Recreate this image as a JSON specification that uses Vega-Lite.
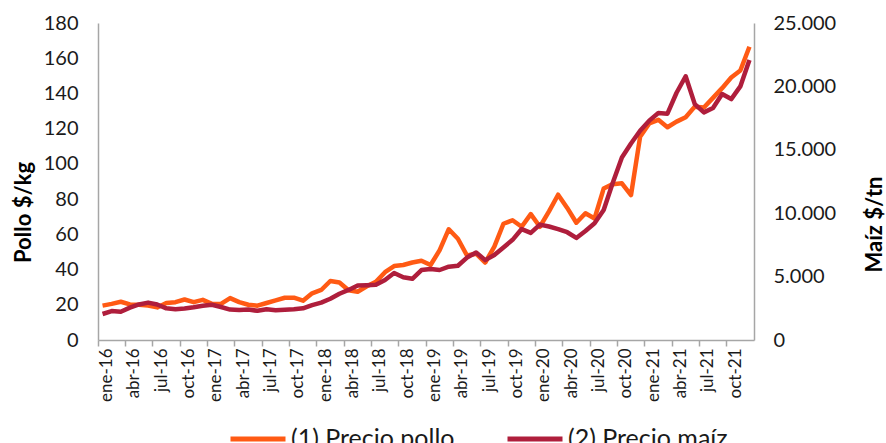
{
  "$schema": "https://vega.github.io/schema/vega-lite/v6.json",
  "width": 656,
  "height": 317,
  "autosize": {"type": "none"},
  "padding": {"left": 98, "top": 23, "right": 132, "bottom": 103},
  "background": "white",
  "config": {
    "font": "Lato",
    "view": {"stroke": null},
    "axis": {"labelFont": "Lato", "titleFont": "Lato", "labelColor": "#1a1a1a", "titleColor": "#000000", "domainColor": "#a6a6a6", "domainWidth": 1.5, "tickColor": "#a6a6a6", "tickWidth": 1.5, "grid": false},
    "legend": {"labelFont": "Lato"}
  },
  "data": {"values": [
    {"mes": "ene-16", "pollo": 19.5, "maiz": 2050},
    {"mes": "feb-16", "pollo": 20.5, "maiz": 2280},
    {"mes": "mar-16", "pollo": 21.7, "maiz": 2230},
    {"mes": "abr-16", "pollo": 20.2, "maiz": 2550},
    {"mes": "may-16", "pollo": 20.0, "maiz": 2800},
    {"mes": "jun-16", "pollo": 19.6, "maiz": 2950},
    {"mes": "jul-16", "pollo": 18.5, "maiz": 2800},
    {"mes": "ago-16", "pollo": 21.0, "maiz": 2500},
    {"mes": "sep-16", "pollo": 21.5, "maiz": 2420},
    {"mes": "oct-16", "pollo": 23.0, "maiz": 2480},
    {"mes": "nov-16", "pollo": 21.5, "maiz": 2580},
    {"mes": "dic-16", "pollo": 22.8, "maiz": 2700},
    {"mes": "ene-17", "pollo": 20.5, "maiz": 2780},
    {"mes": "feb-17", "pollo": 20.5, "maiz": 2600},
    {"mes": "mar-17", "pollo": 23.8, "maiz": 2400},
    {"mes": "abr-17", "pollo": 21.5, "maiz": 2370},
    {"mes": "may-17", "pollo": 20.0, "maiz": 2400},
    {"mes": "jun-17", "pollo": 19.5, "maiz": 2300},
    {"mes": "jul-17", "pollo": 21.0, "maiz": 2420},
    {"mes": "ago-17", "pollo": 22.5, "maiz": 2350},
    {"mes": "sep-17", "pollo": 24.0, "maiz": 2380},
    {"mes": "oct-17", "pollo": 24.0, "maiz": 2420},
    {"mes": "nov-17", "pollo": 22.3, "maiz": 2500},
    {"mes": "dic-17", "pollo": 26.5, "maiz": 2750},
    {"mes": "ene-18", "pollo": 28.4, "maiz": 2950},
    {"mes": "feb-18", "pollo": 33.5, "maiz": 3250},
    {"mes": "mar-18", "pollo": 32.7, "maiz": 3650},
    {"mes": "abr-18", "pollo": 28.3, "maiz": 3950},
    {"mes": "may-18", "pollo": 27.4, "maiz": 4300},
    {"mes": "jun-18", "pollo": 30.5, "maiz": 4320},
    {"mes": "jul-18", "pollo": 33.0, "maiz": 4350},
    {"mes": "ago-18", "pollo": 38.5, "maiz": 4730},
    {"mes": "sep-18", "pollo": 42.0, "maiz": 5280},
    {"mes": "oct-18", "pollo": 42.6, "maiz": 4950},
    {"mes": "nov-18", "pollo": 44.0, "maiz": 4830},
    {"mes": "dic-18", "pollo": 45.0, "maiz": 5520},
    {"mes": "ene-19", "pollo": 42.6, "maiz": 5600},
    {"mes": "feb-19", "pollo": 51.0, "maiz": 5520},
    {"mes": "mar-19", "pollo": 62.9, "maiz": 5780},
    {"mes": "abr-19", "pollo": 57.5, "maiz": 5860},
    {"mes": "may-19", "pollo": 48.0, "maiz": 6500},
    {"mes": "jun-19", "pollo": 49.0, "maiz": 6900},
    {"mes": "jul-19", "pollo": 44.0, "maiz": 6300},
    {"mes": "ago-19", "pollo": 53.0, "maiz": 6700},
    {"mes": "sep-19", "pollo": 66.0, "maiz": 7300},
    {"mes": "oct-19", "pollo": 68.0, "maiz": 7900},
    {"mes": "nov-19", "pollo": 64.3, "maiz": 8750},
    {"mes": "dic-19", "pollo": 71.5, "maiz": 8450},
    {"mes": "ene-20", "pollo": 64.3, "maiz": 9100},
    {"mes": "feb-20", "pollo": 73.0, "maiz": 8950},
    {"mes": "mar-20", "pollo": 82.5, "maiz": 8750},
    {"mes": "abr-20", "pollo": 75.0, "maiz": 8500},
    {"mes": "may-20", "pollo": 66.6, "maiz": 8050},
    {"mes": "jun-20", "pollo": 72.0, "maiz": 8600},
    {"mes": "jul-20", "pollo": 69.0, "maiz": 9200},
    {"mes": "ago-20", "pollo": 86.0, "maiz": 10250},
    {"mes": "sep-20", "pollo": 88.5, "maiz": 12400},
    {"mes": "oct-20", "pollo": 89.0, "maiz": 14400},
    {"mes": "nov-20", "pollo": 82.3, "maiz": 15500},
    {"mes": "dic-20", "pollo": 115.4, "maiz": 16500},
    {"mes": "ene-21", "pollo": 123.0, "maiz": 17300},
    {"mes": "feb-21", "pollo": 125.0, "maiz": 17900},
    {"mes": "mar-21", "pollo": 120.8, "maiz": 17850},
    {"mes": "abr-21", "pollo": 124.0, "maiz": 19500},
    {"mes": "may-21", "pollo": 126.5, "maiz": 20800},
    {"mes": "jun-21", "pollo": 132.5, "maiz": 18600},
    {"mes": "jul-21", "pollo": 132.0, "maiz": 17950},
    {"mes": "ago-21", "pollo": 137.5, "maiz": 18300},
    {"mes": "sep-21", "pollo": 143.0, "maiz": 19400},
    {"mes": "oct-21", "pollo": 149.0, "maiz": 19000},
    {"mes": "nov-21", "pollo": 153.0, "maiz": 20000},
    {"mes": "dic-21", "pollo": 166.5, "maiz": 22080}
  ]},
  "layer": [
    {
      "mark": {"type": "line", "strokeWidth": 4.5, "strokeJoin": "round"},
      "encoding": {
        "x": {
          "field": "mes", "type": "ordinal", "sort": null, "bandPosition": 0.5,
          "scale": {"type": "band", "paddingInner": 0, "paddingOuter": 0},
          "axis": {
            "title": null,
            "values": ["ene-16","abr-16","jul-16","oct-16","ene-17","abr-17","jul-17","oct-17","ene-18","abr-18","jul-18","oct-18","ene-19","abr-19","jul-19","oct-19","ene-20","abr-20","jul-20","oct-20","ene-21","abr-21","jul-21","oct-21"],
            "bandPosition": 0, "labelOffset": 4.55, "labelAngle": 270, "labelFontSize": 17,
            "tickSize": 6, "labelPadding": 2
          }
        },
        "y": {
          "field": "pollo", "type": "quantitative",
          "scale": {"domain": [0, 180], "nice": false},
          "axis": {
            "title": "Pollo $/kg", "values": [0,20,40,60,80,100,120,140,160,180],
            "ticks": false, "tickSize": 0, "labelPadding": 20, "labelFontSize": 20,
            "titleFontSize": 22, "titleFontWeight": "bold", "titleAngle": 270,
            "titleX": -75, "titleY": 189, "titleAlign": "center", "titleBaseline": "middle"
          }
        },
        "color": {
          "datum": "(1) Precio pollo", "type": "nominal",
          "scale": {"domain": ["(1) Precio pollo", "(2) Precio maíz"], "range": ["#FF5A14", "#AF1E3C"]},
          "legend": {
            "orient": "none", "legendX": 130, "legendY": 386, "direction": "horizontal", "title": null,
            "symbolType": "stroke", "symbolSize": 3025, "symbolStrokeWidth": 5,
            "labelFontSize": 25, "labelOffset": 3, "columnPadding": 42, "labelLimit": 300, "labelColor": "#1a1a1a"
          }
        }
      }
    },
    {
      "mark": {"type": "line", "strokeWidth": 4.5, "strokeJoin": "round"},
      "encoding": {
        "x": {"field": "mes", "type": "ordinal", "sort": null, "bandPosition": 0.5},
        "y": {
          "field": "maiz", "type": "quantitative",
          "scale": {"domain": [0, 25000], "nice": false},
          "axis": {
            "orient": "right", "title": "Maíz $/tn", "values": [0,5000,10000,15000,20000,25000],
            "labelExpr": "replace(format(datum.value, ','), ',', '.')",
            "ticks": false, "tickSize": 0, "labelPadding": 19, "labelFontSize": 20,
            "titleFontSize": 22, "titleFontWeight": "bold", "titleAngle": 270,
            "titleX": 120, "titleY": 201, "titleAlign": "center", "titleBaseline": "middle"
          }
        },
        "color": {"datum": "(2) Precio maíz", "type": "nominal"}
      }
    }
  ],
  "resolve": {"scale": {"y": "independent"}}
}
